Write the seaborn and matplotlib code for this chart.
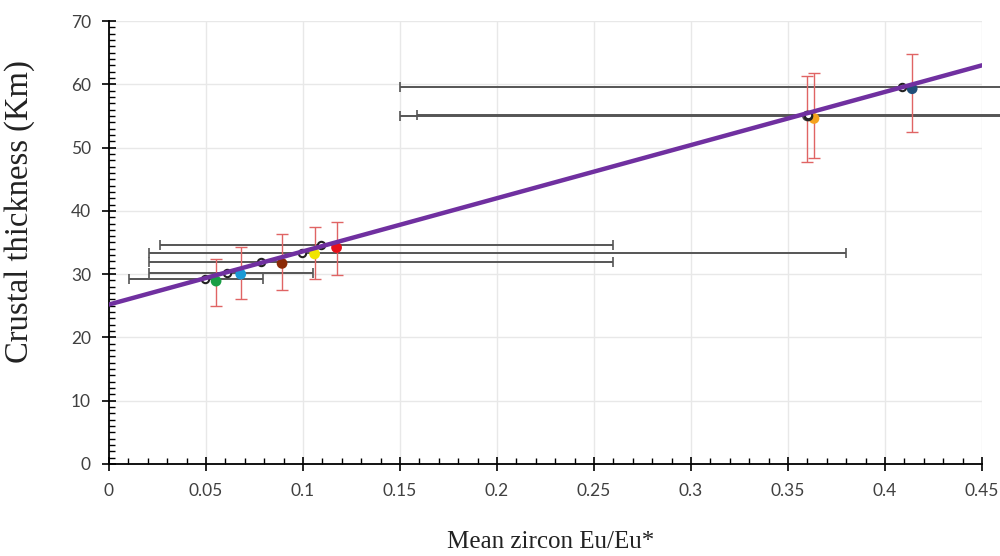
import numpy as np
import pandas as pd
import matplotlib
matplotlib.use("Agg")
import matplotlib.pyplot as plt
from matplotlib.ticker import MultipleLocator, FuncFormatter
import seaborn as sns

# Eu/Eu* sample means (hollow markers) with horizontal ranges
eu_mean = [0.0495, 0.0607, 0.0782, 0.0995, 0.1093, 0.3605, 0.3605, 0.4086]
eu_thick = [29.2, 30.2, 31.9, 33.3, 34.6, 55.0, 55.1, 59.6]
eu_low = [0.0105, 0.0207, 0.0207, 0.0207, 0.0265, 0.150, 0.1586, 0.150]
eu_high = [0.0795, 0.1053, 0.26, 0.38, 0.26, 0.47, 0.47, 0.47]

# coloured points with crustal thickness uncertainty
pt_names = ["green", "cyan", "brown", "yellow", "red", "grey", "orange", "navy"]
pt_x = [0.0552, 0.0679, 0.0892, 0.1060, 0.1173, 0.3600, 0.3634, 0.4140]
pt_y = [28.9, 30.0, 31.7, 33.2, 34.2, 55.0, 54.6, 59.3]
pt_low = [25.0, 26.1, 27.5, 29.2, 29.9, 47.8, 48.3, 52.5]
pt_high = [32.4, 34.3, 36.3, 37.4, 38.2, 61.3, 61.8, 64.8]
pt_colors = ["#1a9e45", "#1b9ad6", "#8b2a06", "#f0e400", "#e8101a",
             "#4a4a4a", "#f5a21e", "#1f4e79"]

# trend line
fit_x = [0.0, 0.45]
fit_y = [25.2, 63.0]

df_eu = pd.DataFrame({"x": eu_mean, "y": eu_thick})
df_pt = pd.DataFrame({"x": pt_x, "y": pt_y, "name": pt_names})
df_fit = pd.DataFrame({"x": fit_x, "y": fit_y})

sns.set_style("white")
plt.rcParams["font.family"] = ["Lato", "DejaVu Sans"]

fig = plt.figure(figsize=(10, 5.56), dpi=100)
ax = fig.add_axes([0.109, 0.1655, 0.873, 0.7967])

# horizontal ranges
xerr = [np.array(eu_mean) - np.array(eu_low), np.array(eu_high) - np.array(eu_mean)]
ax.errorbar(eu_mean, eu_thick, xerr=xerr, fmt="none", ecolor="#555555",
            elinewidth=1.4, capsize=3.8, capthick=1.2, zorder=2, clip_on=False)

# vertical uncertainties
yerr = [np.array(pt_y) - np.array(pt_low), np.array(pt_high) - np.array(pt_y)]
ax.errorbar(pt_x, pt_y, yerr=yerr, fmt="none", ecolor="#e06464",
            elinewidth=1.0, capsize=4.5, capthick=1.0, zorder=3)

sns.scatterplot(data=df_pt, x="x", y="y", hue="name", palette=dict(zip(pt_names, pt_colors)),
                s=60, edgecolor="none", legend=False, ax=ax, zorder=4)
sns.scatterplot(data=df_eu, x="x", y="y", s=28, facecolor="white", edgecolor="#222222",
                linewidth=1.5, legend=False, ax=ax, zorder=5)
sns.lineplot(data=df_fit, x="x", y="y", color="#7030a0", linewidth=3.2, ax=ax, zorder=6)

ax.set_xlim(0, 0.45)
ax.set_ylim(0, 70)
ax.xaxis.set_major_locator(MultipleLocator(0.05))
ax.xaxis.set_minor_locator(MultipleLocator(0.01))
ax.yaxis.set_major_locator(MultipleLocator(10))
ax.yaxis.set_minor_locator(MultipleLocator(1))
ax.xaxis.set_major_formatter(FuncFormatter(lambda v, p: f"{v:.2f}".rstrip("0").rstrip(".") if v else "0"))

ax.grid(which="major", color="#e8e8e8", linewidth=1.0, zorder=0)
ax.set_axisbelow(True)
for s in ["top", "right"]:
    ax.spines[s].set_visible(False)
for s in ["left", "bottom"]:
    ax.spines[s].set_color("black")
    ax.spines[s].set_linewidth(1.3)

ax.tick_params(which="major", direction="inout", length=10, width=1.2, color="black",
               labelsize=12.5, labelcolor="#404040")
ax.tick_params(axis="x", which="major", pad=9)
ax.tick_params(axis="y", which="major", pad=8)
ax.tick_params(which="minor", direction="in", length=4, width=1.0, color="black")
ax.tick_params(which="both", bottom=True, left=True)

ax.set_xlabel("Mean zircon Eu/Eu*", fontsize=18, family="Liberation Serif", color="#222222")
ax.set_ylabel("Crustal thickness (Km)", fontsize=23.5, family="Liberation Serif", color="#222222")
ax.xaxis.set_label_coords(0.506, -0.151)
ax.yaxis.set_label_coords(-0.0848, 0.569)

plt.savefig("out.png", dpi=100, facecolor="white")
